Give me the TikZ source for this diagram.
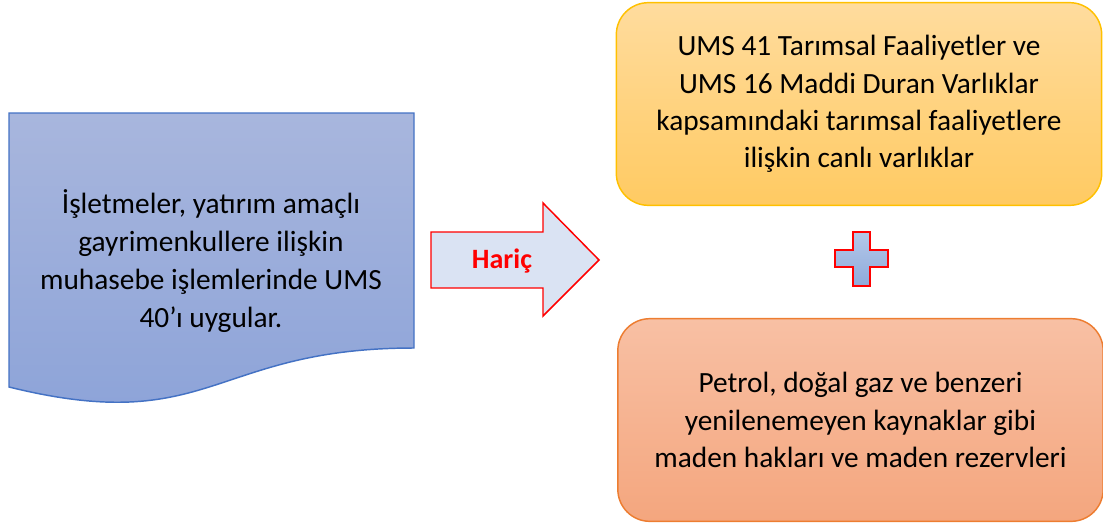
\documentclass[tikz,border=0pt]{standalone}
\usepackage{fontspec}
\setmainfont{Carlito}

\definecolor{docline}{HTML}{4472C4}
\definecolor{doctop}{HTML}{A8B6DD}
\definecolor{docbot}{HTML}{8BA2D8}
\definecolor{arrowfill}{HTML}{DAE3F3}
\definecolor{yelline}{HTML}{FFC000}
\definecolor{yeltop}{HTML}{FFDC9E}
\definecolor{yelbot}{HTML}{FFCA62}
\definecolor{orgline}{HTML}{ED7D31}
\definecolor{orgtop}{HTML}{F8C0A4}
\definecolor{orgbot}{HTML}{F4A67E}
\definecolor{plustop}{HTML}{B4C8E8}
\definecolor{plusbot}{HTML}{8EAADB}

\begin{document}
\begin{tikzpicture}[x=0.75pt, y=-0.75pt,
  bodytext/.style={font=\fontsize{22}{28}\selectfont, align=center, text=black},
  roundbox/.style={bodytext, line width=1.1pt, rounded corners=24pt,
    minimum width=364pt, minimum height=152pt}]

  \useasboundingbox (0,0) rectangle (1103,522);

  % Document shape on the left
  \path[draw=docline, line width=1.1pt, top color=doctop, bottom color=docbot]
    (9,113) -- (414,113) -- (414,348)
    .. controls (211.5,348) and (211.5,437) .. (9,387) -- cycle;
  \node[bodytext, font=\fontsize{22}{28.5}\selectfont] (uygular) at (211,261)
    {İşletmeler, yatırım amaçlı\\gayrimenkullere ilişkin\\muhasebe işlemlerinde UMS\\40’ı uygular.};

  % Block arrow in the middle
  \path[draw=red, line width=1.1pt, fill=arrowfill]
    (431,232) -- (543,232) -- (543,203) -- (599,260) -- (543,316) -- (543,288) -- (431,288) -- cycle;
  \node[font=\fontsize{21}{25}\selectfont\bfseries, text=red] (haric) at (502,261) {Hariç};

  % Boxes on the right
  \node[roundbox, draw=yelline, top color=yeltop, bottom color=yelbot] (tarim) at (859,104)
    {UMS 41 Tarımsal Faaliyetler ve\\UMS 16 Maddi Duran Varlıklar\\kapsamındaki tarımsal faaliyetlere\\ilişkin canlı varlıklar};
  \node[roundbox, draw=orgline, top color=orgtop, bottom color=orgbot] (maden) at (860.5,420)
    {Petrol, doğal gaz ve benzeri\\yenilenemeyen kaynaklar gibi\\maden hakları ve maden rezervleri};

  % Plus sign between them
  \path[draw=red, line width=1.5pt, top color=plustop, bottom color=plusbot]
    (853,232) -- (870,232) -- (870,250) -- (888,250) -- (888,267) -- (870,267)
    -- (870,286) -- (853,286) -- (853,267) -- (835,267) -- (835,250) -- (853,250) -- cycle;
\end{tikzpicture}
\end{document}
